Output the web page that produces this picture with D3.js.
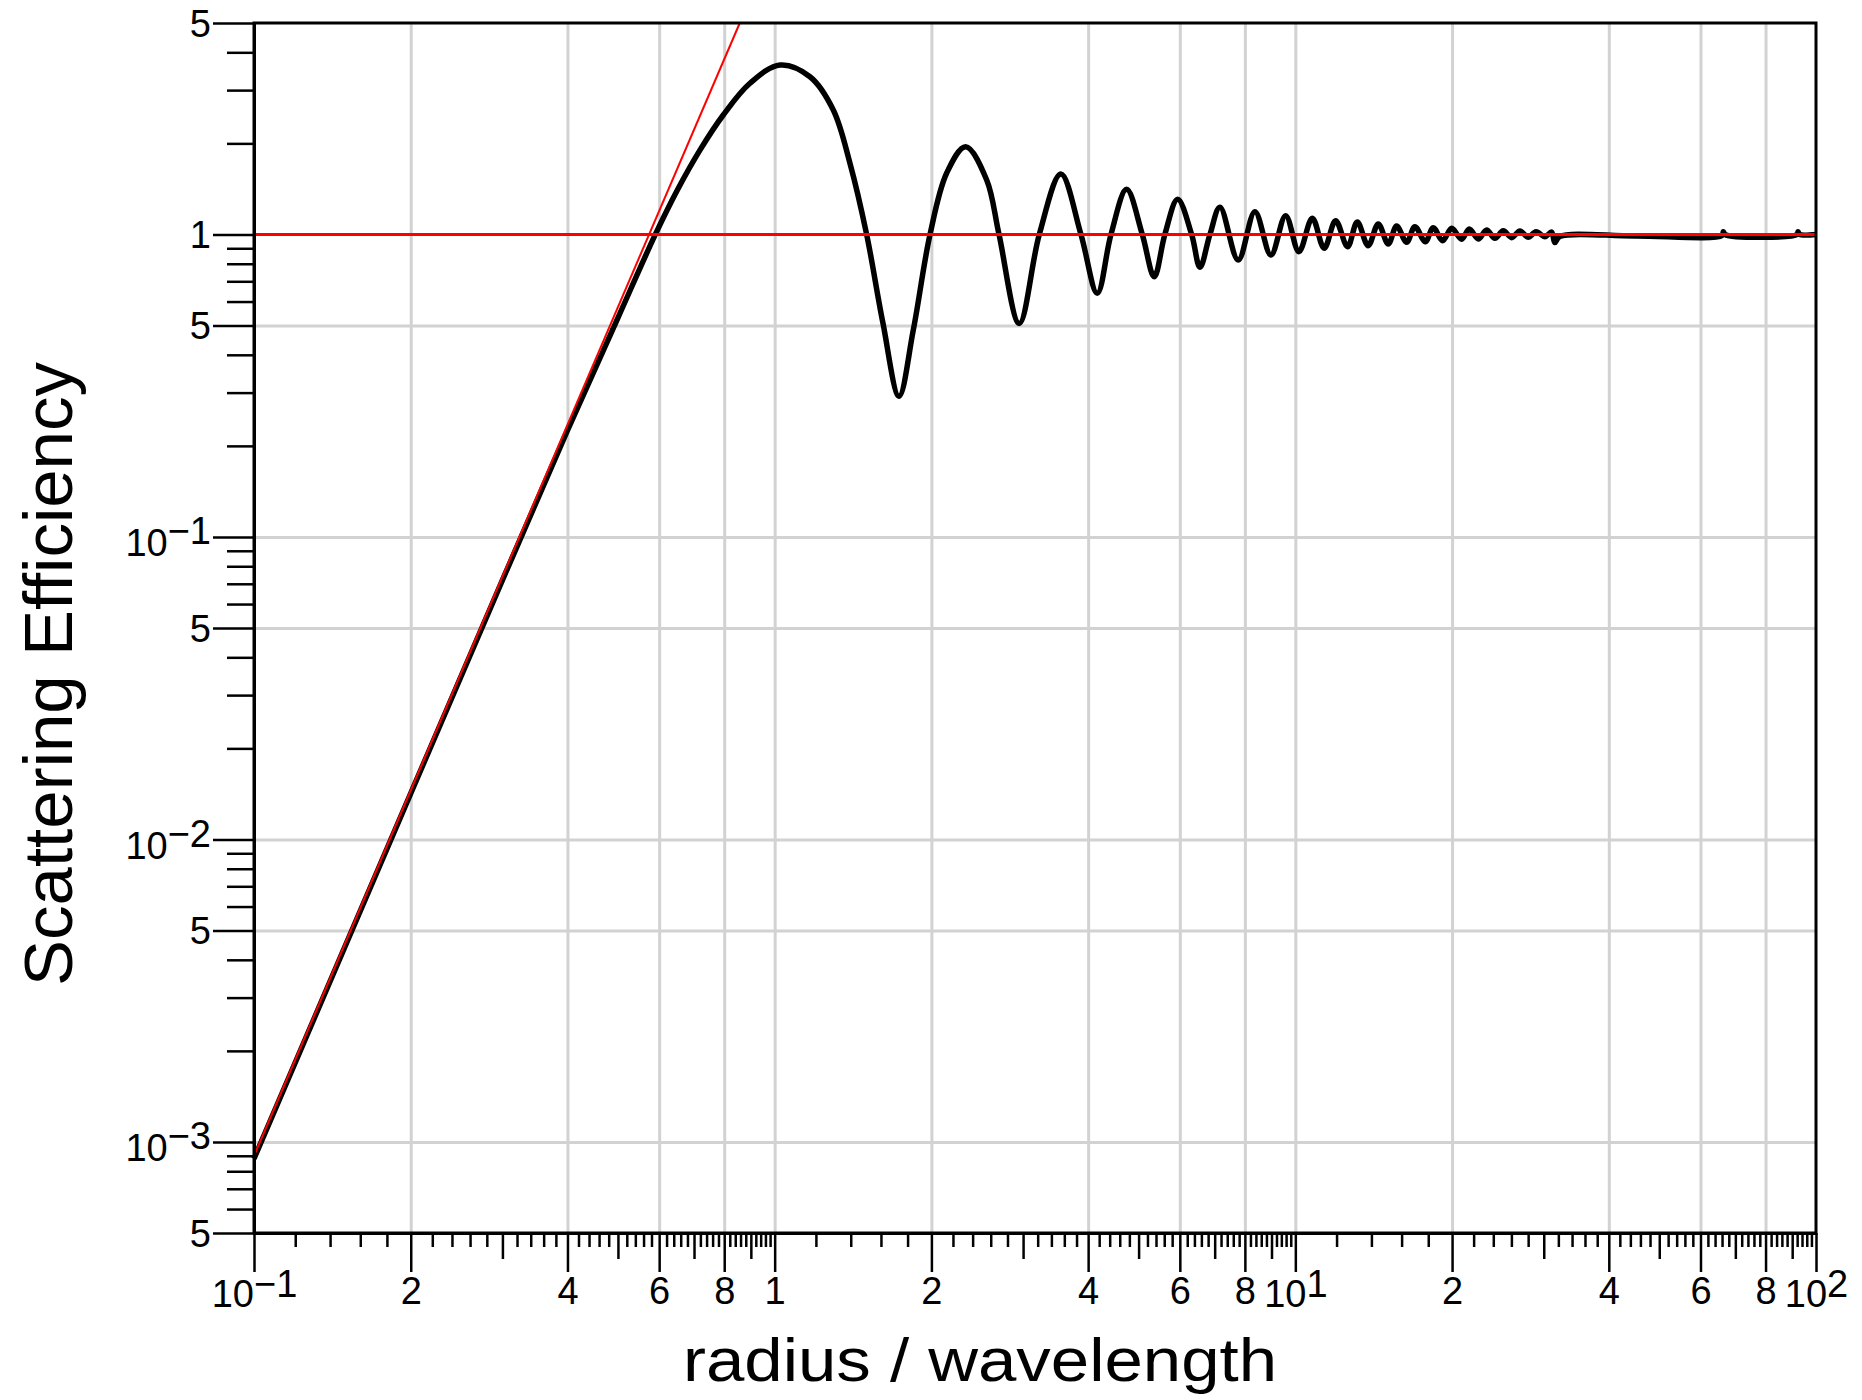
<!DOCTYPE html>
<html>
<head>
<meta charset="utf-8">
<script src="https://cdn.jsdelivr.net/npm/d3@7"></script>
<style>
body { margin: 0; background: #fff; }
svg { display: block; }
.axis text { font-family: "Liberation Sans", Arial, sans-serif; font-size: 38px; fill: #000; }
.axis line { stroke: #000; stroke-width: 2.5; }
.axis path { stroke: #000; stroke-width: 3; }
.grid line { stroke: #d2d2d2; stroke-width: 3; }
.grid path { display: none; }
.title { font-family: "Liberation Sans", Arial, sans-serif; fill: #000; }
</style>
</head>
<body>
<script>
// radius / wavelength
var sizeParam = [0.1, 0.2, 0.3, 0.4, 0.5, 0.59, 0.65, 0.7186, 0.7966, 0.8966, 1.024, 1.169, 1.296, 1.395,
  1.502, 1.614, 1.733, 1.846, 1.988, 2.14, 2.327, 2.554, 2.697, 2.95, 3.223, 3.546, 3.875, 4.165, 4.425,
  4.742, 5.082, 5.358, 5.616, 5.942, 6.322, 6.559, 6.855, 7.166, 7.768, 8.363, 8.976, 9.581, 10.16, 10.78,
  11.36, 11.95, 12.6, 13.15, 13.8, 14.43, 15.08, 15.65, 16.36, 16.97, 17.77, 18.4, 19.18, 19.97, 20.86,
  21.58, 22.46, 23.3, 24.17, 25.08, 26.03, 27.0, 28.0, 29.0, 30.15, 31.06, 31.5, 32.2, 45, 66, 66.4, 67,
  92, 92.4, 93, 100]

// scattering efficiency (black curve)
var efficiency = [0.00088, 0.0142, 0.072, 0.225, 0.53, 1.0, 1.40, 1.9, 2.482, 3.16, 3.632, 3.322, 2.578, 1.72,
  1.0, 0.51, 0.292, 0.483, 1.0, 1.596, 1.95, 1.514, 1.0, 0.508, 1.0, 1.584, 1.0, 0.639, 1.0,
  1.41, 1.0, 0.725, 1.0, 1.307, 1.0, 0.779, 1.0, 1.229, 0.823, 1.189, 0.855, 1.153, 0.877, 1.131,
  0.9, 1.11, 0.911, 1.1, 0.918, 1.083, 0.93, 1.066, 0.942, 1.061, 0.946, 1.053, 0.953, 1.048, 0.964,
  1.042, 0.966, 1.034, 0.971, 1.029, 0.976, 1.026, 0.979, 1.021, 0.983, 1.018, 0.94, 0.985, 0.988, 0.992, 1.02, 0.998,
  1.0, 1.02, 1.0, 1.0]

// red reference lines (small particle limit and the value 1)
var rayleighX = [0.1, 0.857]
var rayleighY = [0.0009, 5]
var limitX = [0.1, 100]
var limitY = [1, 1]

// ticks
var xMajor = [0.1, 0.2, 0.4, 0.6, 0.8, 1, 2, 4, 6, 8, 10, 20, 40, 60, 80, 100]
var xLabels = ["10^-1", "2", "4", "6", "8", "1", "2", "4", "6", "8", "10^1", "2", "4", "6", "8", "10^2"]
var xMedium = [0.3, 0.5, 0.7, 0.9, 3, 5, 7, 9, 30, 50, 70, 90]
var xGrid = [0.2, 0.4, 0.6, 0.8, 1, 2, 4, 6, 8, 10, 20, 40, 60, 80]

var yMajor = [5, 1, 0.5, 0.1, 0.05, 0.01, 0.005, 0.001, 0.0005]
var yLabels = ["5", "1", "5", "10^-1", "5", "10^-2", "5", "10^-3", "5"]
var yGrid = [0.5, 0.1, 0.05, 0.01, 0.005, 0.001]

var width = 1862
var height = 1400
var margin = {top: 23, right: 46, bottom: 167, left: 254}
var w = width - margin.left - margin.right
var h = height - margin.top - margin.bottom

var svg = d3.select("body").append("svg")
    .attr("width", width)
    .attr("height", height)

var g = svg.append("g")
    .attr("transform", `translate(${margin.left},${margin.top})`)

var x = d3.scaleLog().domain([0.1, 100]).range([0, w])
var y = d3.scaleLog().domain([0.0005, 5]).range([h, 0])

// small ticks: every 0.2 of a decade step, except labelled and medium ones
var xMinor = []
;[0.1, 1, 10].forEach(function(dec) {
  d3.range(12, 100, 2).forEach(function(k) {
    var v = +(k / 10 * dec).toPrecision(4)
    if (xMajor.indexOf(v) < 0 && xMedium.indexOf(v) < 0) xMinor.push(v)
  })
})
var yMinor = []
;[0.0001, 0.001, 0.01, 0.1, 1].forEach(function(dec) {
  [2, 3, 4, 6, 7, 8, 9].forEach(function(k) {
    var v = +(k * dec).toPrecision(4)
    if (v > 0.0005 && v < 5) yMinor.push(v)
  })
})

// grid
g.append("g").attr("class", "grid")
  .attr("transform", `translate(0,${h})`)
  .call(d3.axisBottom(x).tickValues(xGrid).tickSize(-h).tickFormat(""))
g.append("g").attr("class", "grid")
  .call(d3.axisLeft(y).tickValues(yGrid).tickSize(-w).tickFormat(""))

// curves
var smooth = d3.line()
    .x(d => x(d[0]))
    .y(d => y(d[1]))
    .curve(d3.curveCatmullRom.alpha(0.5))

g.append("path")
  .datum(sizeParam.map((v, i) => [v, efficiency[i]]))
  .attr("d", smooth)
  .attr("fill", "none")
  .attr("stroke", "#000")
  .attr("stroke-width", 5.5)
  .attr("stroke-linejoin", "round")

var straight = d3.line().x(d => x(d[0])).y(d => y(d[1]))
g.append("path")
  .datum(rayleighX.map((v, i) => [v, rayleighY[i]]))
  .attr("d", straight)
  .attr("fill", "none")
  .attr("stroke", "#ff0000")
  .attr("stroke-width", 2)
g.append("path")
  .datum(limitX.map((v, i) => [v, limitY[i]]))
  .attr("d", straight)
  .attr("fill", "none")
  .attr("stroke", "#ff0000")
  .attr("stroke-width", 3)

// frame
g.append("rect")
  .attr("width", w)
  .attr("height", h)
  .attr("fill", "none")
  .attr("stroke", "#000")
  .attr("stroke-width", 3)

// superscript labels like 10^-1
function supLabels(sel, baseDy, expDy) {
  sel.each(function() {
    var t = d3.select(this), s = t.text()
    if (s.indexOf("^") < 0) return
    var parts = s.split("^")
    t.text(null)
    t.append("tspan").attr("dy", baseDy).text(parts[0])
    t.append("tspan").attr("dy", expDy).text(parts[1].replace("-", "\u2212"))
  })
}

// x axis
var xAxisG = g.append("g").attr("class", "axis").attr("transform", `translate(0,${h})`)
xAxisG.append("g").call(d3.axisBottom(x).tickValues(xMinor).tickSize(14).tickSizeOuter(0).tickFormat(""))
xAxisG.append("g").call(d3.axisBottom(x).tickValues(xMedium).tickSize(26).tickSizeOuter(0).tickFormat(""))
var xMajorG = xAxisG.append("g")
  .call(d3.axisBottom(x).tickValues(xMajor).tickSize(39).tickSizeOuter(0).tickFormat((d, i) => xLabels[i]))
xMajorG.selectAll("text").attr("dy", null).attr("y", 71).call(supLabels, 3, -10)

// y axis
var yAxisG = g.append("g").attr("class", "axis")
yAxisG.append("g").call(d3.axisLeft(y).tickValues(yMinor).tickSize(27).tickSizeOuter(0).tickFormat(""))
var yMajorG = yAxisG.append("g")
  .call(d3.axisLeft(y).tickValues(yMajor).tickSize(41).tickPadding(2).tickSizeOuter(0).tickFormat((d, i) => yLabels[i]))
yMajorG.selectAll("text").attr("dy", null).attr("y", 13).call(supLabels, 6, -12)

// axis titles
svg.append("text")
  .attr("class", "title")
  .attr("x", 980)
  .attr("y", 1381)
  .attr("text-anchor", "middle")
  .style("font-size", "62px")
  .attr("textLength", 594)
  .attr("lengthAdjust", "spacingAndGlyphs")
  .text("radius / wavelength")

svg.append("text")
  .attr("class", "title")
  .attr("transform", "translate(72,674) rotate(-90)")
  .attr("text-anchor", "middle")
  .style("font-size", "68px")
  .attr("textLength", 624)
  .attr("lengthAdjust", "spacingAndGlyphs")
  .text("Scattering Efficiency")
</script>
</body>
</html>
